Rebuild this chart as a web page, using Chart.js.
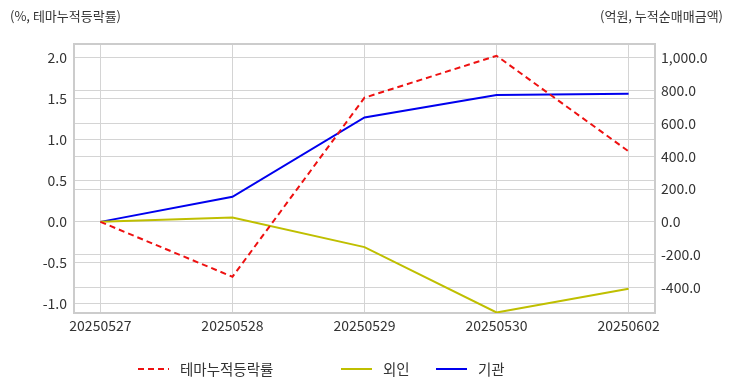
<!DOCTYPE html>
<html><head><meta charset="utf-8">
<script src="https://cdn.jsdelivr.net/npm/chart.js@4/dist/chart.umd.min.js"></script>
<style>
html,body{margin:0;padding:0;background:#fff;}
#wrap{position:relative;width:732px;height:392px;font-family:"Noto Sans CJK KR","Noto Sans",sans-serif;color:#333;}
canvas{position:absolute;left:0;top:0;}
.t{position:absolute;font-size:13px;top:6px;white-space:nowrap;}
#legend{position:absolute;top:358px;left:0;width:732px;height:24px;font-size:14.5px;}
.li{position:absolute;top:0;height:22px;line-height:22px;white-space:nowrap;}
.li svg{position:absolute;top:0;left:0;}
.li span{position:absolute;top:0;}
</style></head>
<body>
<div id="wrap">
<canvas id="c" width="732" height="392"></canvas>
<div class="t" style="left:10px">(%, 테마누적등락률)</div>
<div class="t" style="right:9px">(억원, 누적순매매금액)</div>
<div id="legend"></div>
</div>
<script>
const categories = ["20250527","20250528","20250529","20250530","20250602"];
const themeReturn = [0.0, -0.67, 1.515, 2.026, 0.86];
const foreign = [0, 27, -154, -553, -408];
const institution = [0, 153, 637, 774, 781];
const seriesNames = ["테마누적등락률","외인","기관"];
const leftTicks = [-1.0, -0.5, 0.0, 0.5, 1.0, 1.5, 2.0];
const rightTicks = [-400, -200, 0, 200, 400, 600, 800, 1000];

const toXY = arr => arr.map((v,i)=>({x:i,y:v}));

const frame = {
  id:'frame',
  beforeDatasetsDraw(chart){
    const {ctx, chartArea:a} = chart;
    ctx.save();
    ctx.strokeStyle = '#cccccc';
    ctx.lineWidth = 2;
    ctx.strokeRect(a.left, a.top, a.right-a.left, a.bottom-a.top);
    ctx.restore();
  }
};

const tickFont = {family:'"Noto Sans CJK KR","Noto Sans",sans-serif', size:14};
const gridColor = '#d4d4d4';

new Chart(document.getElementById('c'), {
  type:'line',
  data:{
    datasets:[
      {label:seriesNames[0], data:toXY(themeReturn), yAxisID:'yL', borderColor:'#ee1111', borderDash:[6,4], borderWidth:2, pointRadius:0, tension:0, fill:false},
      {label:seriesNames[1], data:toXY(foreign), yAxisID:'yR', borderColor:'#bfbf00', borderWidth:2, pointRadius:0, tension:0, fill:false},
      {label:seriesNames[2], data:toXY(institution), yAxisID:'yR', borderColor:'#0000ee', borderWidth:2, pointRadius:0, tension:0, fill:false}
    ]
  },
  options:{
    responsive:false, animation:false,
    layout:{padding:{top:44,left:0,right:0,bottom:0}},
    plugins:{legend:{display:false}, tooltip:{enabled:false}},
    scales:{
      x:{type:'linear', min:-0.2, max:4.2,
        afterFit(s){s.height=79;},
        afterBuildTicks(s){s.ticks = categories.map((c,i)=>({value:i}));},
        border:{display:false},
        grid:{color:gridColor, drawTicks:false, lineWidth:1},
        ticks:{autoSkip:false, maxRotation:0, padding:4, color:'#333', font:tickFont,
          callback:v=>categories[v]}
      },
      yL:{type:'linear', position:'left', min:-1.112, max:2.17,
        afterFit(s){s.width=74;},
        afterBuildTicks(s){s.ticks = leftTicks.map(v=>({value:v}));},
        border:{display:false},
        grid:{color:gridColor, drawTicks:false},
        ticks:{padding:7, color:'#333', font:tickFont,
          callback:v=>Number(v).toFixed(1)}
      },
      yR:{type:'linear', position:'right', min:-556, max:1085,
        afterFit(s){s.width=77;},
        afterBuildTicks(s){s.ticks = rightTicks.map(v=>({value:v}));},
        border:{display:false},
        grid:{color:gridColor, drawTicks:false, drawOnChartArea:true},
        ticks:{padding:6, color:'#333', font:tickFont,
          callback:v=>Number(v).toLocaleString('en-US',{minimumFractionDigits:1,maximumFractionDigits:1})}
      }
    }
  },
  plugins:[frame]
});

// HTML legend
const legendItems = [
  {name:seriesNames[0], color:'#ee1111', dash:'6,4', left:138},
  {name:seriesNames[1], color:'#bfbf00', dash:'', left:341},
  {name:seriesNames[2], color:'#0000ee', dash:'', left:436}
];
const lg = document.getElementById('legend');
legendItems.forEach(it=>{
  const d = document.createElement('div');
  d.className='li';
  d.style.left = it.left+'px';
  d.innerHTML = '<svg width="32" height="22"><line x1="0" y1="11" x2="31" y2="11" stroke="'+it.color+'" stroke-width="2" '+(it.dash?'stroke-dasharray="'+it.dash+'"':'')+'/></svg><span style="left:42px">'+it.name+'</span>';
  lg.appendChild(d);
});
</script>
</body></html>
